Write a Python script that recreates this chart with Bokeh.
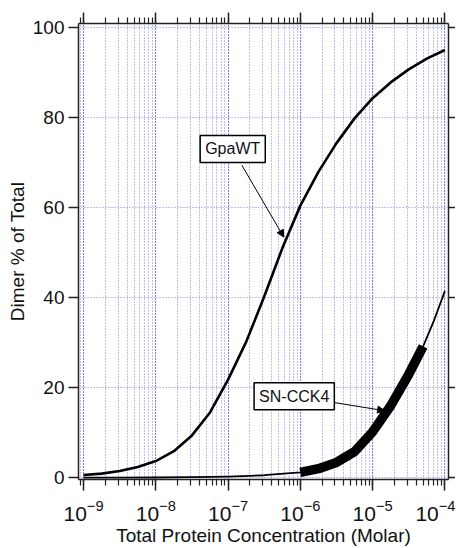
import numpy as np
from bokeh.plotting import figure
from bokeh.models import (LogAxis, LinearAxis, LogTicker, FixedTicker, Label,
                          Arrow, NormalHead, Range1d, ColumnDataSource,
                          CustomJSTickFormatter)
from bokeh.embed import file_html
from bokeh.resources import INLINE

# ---------------- data ----------------
# log10 of total protein concentration (Molar)
gpawt_log_conc = [-9.0, -8.75, -8.5, -8.25, -8.0, -7.75, -7.5, -7.25, -7.0,
                  -6.75, -6.5, -6.25, -6.0, -5.75, -5.5, -5.25, -5.0, -4.75,
                  -4.5, -4.25, -4.0]
gpawt_dimer = [0.6, 0.9, 1.5, 2.4, 3.7, 5.9, 9.4, 14.5, 21.8,
               30.2, 40.3, 51.0, 60.5, 68.0, 74.4, 79.9, 84.4, 87.9,
               90.8, 93.2, 95.1]

sn_log_conc = [-9.0, -8.5, -8.0, -7.5, -7.0, -6.5, -6.0, -5.75, -5.5, -5.25,
               -5.0, -4.75, -4.5, -4.301, -4.15, -4.0]
sn_dimer = [0.0, 0.02, 0.05, 0.12, 0.25, 0.55, 1.2, 2.0, 3.4, 5.8,
            10.2, 16.0, 23.0, 29.2, 35.0, 41.5]
# experimentally covered range for SN-CCK4 (drawn heavy)
sn_measured_range = [1e-6, 5e-5]

y_ticks = [0, 20, 40, 60, 80, 100]

# ----------------------------------------------------------------
gp_src = ColumnDataSource(dict(x=[10 ** v for v in gpawt_log_conc], y=gpawt_dimer))
sn_x = [10 ** v for v in sn_log_conc]
sn_src = ColumnDataSource(dict(x=sn_x, y=sn_dimer))
sel = [i for i, v in enumerate(sn_x) if sn_measured_range[0] * 0.999 <= v <= sn_measured_range[1] * 1.001]
sn_thick = ColumnDataSource(dict(x=[sn_x[i] for i in sel], y=[sn_dimer[i] for i in sel]))

FONT = "Liberation Sans"
GRID = "#4a4ad4"
AX = "#222222"

p = figure(width=455, height=548, x_axis_type="log",
           x_range=Range1d(10 ** -9.07, 10 ** -3.95), y_range=Range1d(-0.4, 101),
           output_backend="svg", toolbar_location=None,
           min_border_left=78, min_border_right=6, min_border_top=23,
           min_border_bottom=60)
p.outline_line_color = None
p.background_fill_color = "white"

xticker = LogTicker(desired_num_ticks=6, num_minor_ticks=10)
yticker = FixedTicker(ticks=y_ticks, minor_ticks=[])

p.xaxis.ticker = xticker
p.yaxis.ticker = yticker

# grids (dotted, pale blue)
for g in (p.xgrid, p.ygrid):
    g.grid_line_color = GRID
    g.grid_line_dash = "1 2"
    g.grid_line_alpha = 0.7
    g.grid_line_width = 1
p.xgrid.minor_grid_line_color = GRID
p.xgrid.minor_grid_line_dash = "1 2"
p.xgrid.minor_grid_line_alpha = 0.7


def style_axis(ax, major_out, minor_out):
    ax.axis_line_color = AX
    ax.axis_line_width = 1.5
    ax.major_tick_line_color = AX
    ax.major_tick_line_width = 1.5
    ax.minor_tick_line_color = AX
    ax.minor_tick_line_width = 1.2
    ax.major_tick_in = 0
    ax.minor_tick_in = 0
    ax.major_tick_out = major_out
    ax.minor_tick_out = minor_out
    ax.major_label_text_font = FONT
    ax.major_label_text_color = "#111111"
    ax.axis_label_text_font = FONT
    ax.axis_label_text_font_style = "normal"
    ax.axis_label_text_color = "#111111"


xa = p.xaxis[0]
style_axis(xa, 11, 6)
xa.major_label_text_font_size = "21px"
xa.major_label_standoff = 9
xa.axis_label = "Total Protein Concentration (Molar)"
xa.axis_label_text_font_size = "19px"
xa.axis_label_standoff = 1

ya = p.yaxis[0]
style_axis(ya, 10, 0)
ya.major_label_text_font_size = "19px"
ya.major_label_standoff = 4
ya.axis_label = "Dimer % of Total"
ya.axis_label_text_font_size = "19px"
ya.axis_label_standoff = 2

blank = CustomJSTickFormatter(code="return '';")

top = LogAxis(ticker=xticker, formatter=blank)
style_axis(top, 11, 6)
top.major_label_standoff = 0
top.major_label_text_font_size = "1px"
p.add_layout(top, "above")

right = LinearAxis(ticker=yticker, formatter=blank)
style_axis(right, 7, 0)
right.major_label_standoff = 0
right.major_label_text_font_size = "1px"
p.add_layout(right, "right")

# curves
p.line("x", "y", source=gp_src, line_color="black", line_width=2.6, line_join="round")
p.line("x", "y", source=sn_src, line_color="black", line_width=1.8, line_join="round")
p.line("x", "y", source=sn_thick, line_color="black", line_width=9.5, line_join="round")

# annotations
p.add_layout(Arrow(end=NormalHead(size=7, fill_color="black", line_color="black", line_width=1),
                   x_start=10 ** -6.81, y_start=69.5, x_end=10 ** -6.229, y_end=53.5,
                   line_color="black", line_width=1))
p.add_layout(Arrow(end=NormalHead(size=7, fill_color="black", line_color="black", line_width=1),
                   x_start=10 ** -5.527, y_start=16.7, x_end=10 ** -4.834, y_end=14.9,
                   line_color="black", line_width=1))

for (lx, ly, txt) in [(10 ** -6.936, 73.1, "GpaWT"), (10 ** -6.085, 18.1, "SN-CCK4")]:
    p.add_layout(Label(x=lx, y=ly, text=txt, text_align="center", text_baseline="middle",
                       text_font=FONT, text_font_size="16px", text_color="#111111",
                       border_line_color="black", border_line_width=1.5,
                       background_fill_color="white", padding=5))

open("out.html", "w").write(file_html(p, INLINE))
